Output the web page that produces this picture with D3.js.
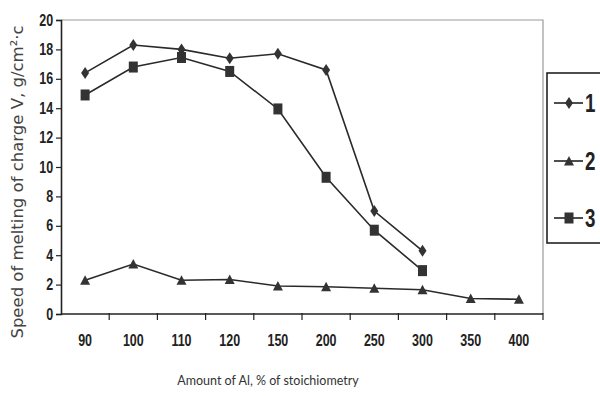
<!DOCTYPE html>
<html>
<head>
<meta charset="utf-8">
<script src="https://cdn.jsdelivr.net/npm/d3@7"></script>
<style>
  body { margin: 0; background: #fff; }
  svg { display: block; }
</style>
</head>
<body>
<div id="chart"></div>
<script>
// values
const categories = ["90", "100", "110", "120", "150", "200", "250", "300", "350", "400"];
const series1 = [16.4, 18.3, 18.0, 17.4, 17.7, 16.6, 7.0, 4.3];
const series2 = [2.3, 3.4, 2.3, 2.35, 1.9, 1.85, 1.75, 1.65, 1.05, 1.0];
const series3 = [14.9, 16.8, 17.45, 16.5, 13.95, 9.3, 5.7, 2.95];
const yTicks = [0, 2, 4, 6, 8, 10, 12, 14, 16, 18, 20];
const legendLabels = ["1", "2", "3"];

const width = 600, height = 396;
const margin = {left: 61, top: 20, right: 57, bottom: 82};
const narrow = "'Liberation Sans', Arial, sans-serif";
const squeeze = 0.78; // tick labels in the original are a condensed face

const svg = d3.select("#chart").append("svg")
    .attr("width", width)
    .attr("height", height);

const x = d3.scaleBand()
    .domain(categories)
    .range([margin.left, width - margin.right]);

const y = d3.scaleLinear()
    .domain([0, 20])
    .range([height - margin.bottom, margin.top]);

// plot area border (light grey, top and right)
svg.append("path")
    .attr("d", `M${margin.left},${margin.top}H${width - margin.right}V${height - margin.bottom}`)
    .attr("fill", "none")
    .attr("stroke", "#999")
    .attr("stroke-width", 1.2);

// y axis
const yAxis = svg.append("g")
    .attr("transform", `translate(${margin.left},0)`)
    .call(d3.axisLeft(y).tickValues(yTicks).tickSize(5).tickPadding(3));
yAxis.select(".domain").attr("stroke", "#222").attr("stroke-width", 1.6);
yAxis.selectAll(".tick line").attr("stroke", "#222").attr("stroke-width", 1.2);
yAxis.selectAll("text")
    .attr("x", -10)
    .attr("transform", `scale(${squeeze},1)`)
    .attr("font-family", narrow)
    .attr("font-size", 16)
    .attr("font-weight", "bold")
    .attr("fill", "#222");

// x axis: ticks sit on band edges, labels on band centres
const xg = svg.append("g")
    .attr("transform", `translate(0,${height - margin.bottom})`);
xg.append("line")
    .attr("x1", margin.left).attr("x2", width - margin.right)
    .attr("stroke", "#222").attr("stroke-width", 1.6);
xg.selectAll(".edge")
    .data(categories.slice(1).concat(["end"]))
    .join("line")
    .attr("class", "edge")
    .attr("x1", (d, i) => margin.left + x.bandwidth() * (i + 1))
    .attr("x2", (d, i) => margin.left + x.bandwidth() * (i + 1))
    .attr("y1", -1).attr("y2", 6)
    .attr("stroke", "#222").attr("stroke-width", 1.2);
xg.selectAll(".lbl")
    .data(categories)
    .join("text")
    .attr("class", "lbl")
    .attr("transform", d => `translate(${x(d) + x.bandwidth() / 2},32) scale(${squeeze},1)`)
    .attr("text-anchor", "middle")
    .attr("font-family", narrow)
    .attr("font-size", 16)
    .attr("font-weight", "bold")
    .attr("fill", "#222")
    .text(d => d);

// axis titles
svg.append("text")
    .attr("x", 268)
    .attr("y", 385)
    .attr("text-anchor", "middle")
    .attr("font-family", "Lato, 'Open Sans', sans-serif")
    .attr("font-size", 12.5)
    .attr("fill", "#333")
    .text("Amount of Al, % of stoichiometry");

svg.append("text")
    .attr("transform", "translate(23,182) rotate(-90)")
    .attr("text-anchor", "middle")
    .attr("font-family", "'DejaVu Sans', Verdana, sans-serif")
    .attr("font-size", 16.5)
    .attr("fill", "#444")
    .text("Speed of melting of charge V, g/cm²·c");

const cx = (d, i) => x(categories[i]) + x.bandwidth() / 2;

// marker shapes
function diamond(g) {
    g.append("path").attr("d", "M0,-6L4,0L0,6L-4,0Z").attr("fill", "#333");
}
function triangle(g) {
    g.append("path").attr("d", "M0,-5L5,4.5L-5,4.5Z").attr("fill", "#333");
}
function square(g) {
    g.append("rect").attr("x", -4.5).attr("y", -5.5).attr("width", 9).attr("height", 11).attr("fill", "#333");
}

function drawSeries(data, marker) {
    const line = d3.line().x(cx).y(d => y(d));
    svg.append("path")
        .datum(data)
        .attr("d", line)
        .attr("fill", "none")
        .attr("stroke", "#2a2a2a")
        .attr("stroke-width", 1.6);
    data.forEach((d, i) => {
        const g = svg.append("g").attr("transform", `translate(${cx(d, i)},${y(d)})`);
        marker(g);
    });
}

drawSeries(series2, triangle);
drawSeries(series3, square);
drawSeries(series1, diamond);

// legend
const lg = svg.append("g");
lg.append("rect")
    .attr("x", 547).attr("y", 73)
    .attr("width", 70).attr("height", 170)
    .attr("fill", "#fff")
    .attr("stroke", "#222")
    .attr("stroke-width", 1.6);
const markers = [diamond, triangle, square];
const legendY = [103, 161, 218];
legendLabels.forEach((lab, i) => {
    const row = lg.append("g").attr("transform", `translate(0,${legendY[i]})`);
    row.append("line")
        .attr("x1", 554).attr("x2", 583)
        .attr("stroke", "#222").attr("stroke-width", 1.6);
    markers[i](row.append("g").attr("transform", "translate(569,0)"));
    row.append("text")
        .attr("transform", `translate(585,9) scale(0.75,1)`)
        .attr("font-family", narrow)
        .attr("font-size", 25)
        .attr("font-weight", "bold")
        .attr("fill", "#222")
        .text(lab);
});
</script>
</body>
</html>
